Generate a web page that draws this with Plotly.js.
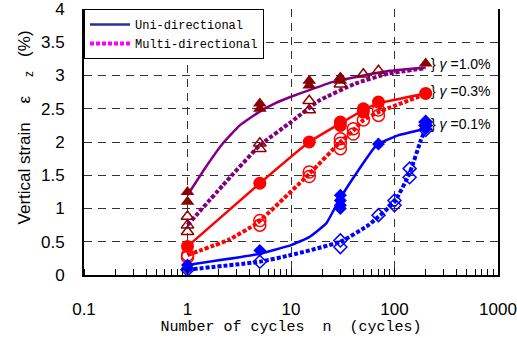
<!DOCTYPE html>
<html><head><meta charset="utf-8">
<script src="https://cdn.plot.ly/plotly-3.0.1.min.js"></script>
<style>html,body{margin:0;padding:0;background:#fff}#c{width:517px;height:338px}</style>
</head><body><div id="c"></div>
<script>
// ---- data ----
// gamma = 1.0 %
const g10UniMarkN = [1, 1, 5, 5, 15, 15, 30, 30, 200];
const g10UniMarkY = [1.25, 1.1, 2.58, 2.5, 2.92, 2.85, 2.97, 2.92, 3.18];
const g10MultiMarkN = [1, 1, 1, 5, 5, 15, 15, 30, 50, 70];
const g10MultiMarkY = [0.88, 0.75, 0.65, 1.98, 1.9, 2.62, 2.48, 2.87, 3.02, 3.07];
const g10UniLineN = [1, 1.5, 2.2, 3.2, 4.9, 7, 10, 15, 25, 50, 90, 200];
const g10UniLineY = [1.2, 1.62, 1.98, 2.25, 2.45, 2.58, 2.68, 2.78, 2.9, 3.0, 3.07, 3.12];
const g10MultiLineN = [1, 2.2, 5, 10, 18.6, 42, 88, 200];
const g10MultiLineY = [0.75, 1.35, 1.95, 2.3, 2.62, 2.88, 3.03, 3.11];
// gamma = 0.3 %
const g03UniMarkN = [1, 5, 15, 30, 30, 50, 50, 70, 200];
const g03UniMarkY = [0.43, 1.38, 2.0, 2.3, 2.25, 2.5, 2.45, 2.6, 2.73];
const g03MultiMarkN = [1, 1, 5, 5, 15, 15, 30, 30, 30, 40, 40, 50, 70, 70];
const g03MultiMarkY = [0.3, 0.27, 0.82, 0.75, 1.55, 1.48, 2.05, 1.98, 1.9, 2.2, 2.12, 2.33, 2.48, 2.4];
const g03UniLineN = [1, 5, 15, 30, 50, 70, 200];
const g03UniLineY = [0.43, 1.38, 2.0, 2.28, 2.48, 2.58, 2.73];
const g03MultiLineN = [1, 2.5, 4.7, 15, 30, 40, 50, 70, 200];
const g03MultiLineY = [0.3, 0.53, 0.78, 1.52, 2.0, 2.17, 2.33, 2.45, 2.72];
// gamma = 0.1 %
const g01UniMarkN = [1, 1, 5, 30, 30, 30, 30, 70, 200, 200, 200];
const g01UniMarkY = [0.15, 0.1, 0.37, 1.2, 1.12, 1.05, 1.0, 1.97, 2.3, 2.25, 2.2];
const g01MultiMarkN = [1, 5, 30, 30, 70, 100, 100, 140, 140, 200, 200, 200];
const g01MultiMarkY = [0.08, 0.2, 0.52, 0.42, 0.9, 1.12, 1.05, 1.6, 1.47, 2.3, 2.25, 2.18];
const g01UniLineN = [1, 5, 10, 15, 22, 29, 45, 67, 108, 200];
const g01UniLineY = [0.15, 0.32, 0.45, 0.57, 0.78, 1.12, 1.58, 1.95, 2.1, 2.2];
const g01MultiLineN = [1, 5, 10, 30, 56, 100, 140, 180, 200];
const g01MultiLineY = [0.08, 0.2, 0.3, 0.5, 0.75, 1.1, 1.53, 2.03, 2.2];

const xTicks = [0.1, 1, 10, 100, 1000];
const xTickText = ['0.1', '1', '10', '100', '1000'];
const yTicks = [0, 0.5, 1, 1.5, 2, 2.5, 3, 3.5, 4];
const yTickText = ['0', '0.5', '1', '1.5', '2', '2.5', '3', '3.5', '4'];
const labels = ['} <i>γ</i> =1.0%', '} <i>γ</i> =0.3%', '} <i>γ</i> =0.1%'];
const labelY = [3.18, 2.76, 2.27];
const legendNames = ['Uni-directional', 'Multi-directional'];
const xTitle = 'Number of cycles  n  (cycles)';
const yTitle = 'Vertical strain    ε    <sub>z</sub>   (%)';

const PURPLE = '#800080', MAROON = '#8B0000', RED = '#FF0000', BLUE = '#0000FF';
function line(n, y, c, dotted) {
  return {x: n, y: y, mode: 'lines', showlegend: false, hoverinfo: 'skip',
    line: {color: c, width: dotted ? 4 : 2.5, dash: dotted ? '4px,2px' : 'solid', shape: 'spline', smoothing: 0.4}};
}
function mark(n, y, c, sym, size, open) {
  return {x: n, y: y, mode: 'markers', showlegend: false,
    marker: {symbol: open ? sym + '-open' : sym, color: c, size: size, line: {color: c, width: open ? 1.5 : 0}}};
}
const traces = [
  line(g10UniLineN, g10UniLineY, PURPLE, false),
  line(g10MultiLineN, g10MultiLineY, PURPLE, true),
  line(g03UniLineN, g03UniLineY, RED, false),
  line(g03MultiLineN, g03MultiLineY, RED, true),
  line(g01UniLineN, g01UniLineY, BLUE, false),
  line(g01MultiLineN, g01MultiLineY, BLUE, true),
  mark(g10UniMarkN, g10UniMarkY, MAROON, 'triangle-up', 12, false),
  mark(g10MultiMarkN, g10MultiMarkY, MAROON, 'triangle-up', 11, true),
  mark(g03UniMarkN, g03UniMarkY, RED, 'circle', 13, false),
  mark(g03MultiMarkN, g03MultiMarkY, RED, 'circle', 12, true),
  mark(g01UniMarkN, g01UniMarkY, BLUE, 'diamond', 10, false),
  mark(g01MultiMarkN, g01MultiMarkY, BLUE, 'diamond', 10, true),
  {x: [null], y: [null], mode: 'lines', name: legendNames[0], line: {color: '#2E3192', width: 2.5}},
  {x: [null], y: [null], mode: 'lines', name: legendNames[1], line: {color: '#FF00FF', width: 4, dash: '4px,2px'}}
];
const annotations = labels.map((t, i) => ({
  x: Math.log10(185), y: labelY[i], xref: 'x', yref: 'y', text: t, showarrow: false, xshift: 7,
  xanchor: 'left', yanchor: 'middle', font: {family: 'Liberation Sans, Arial', size: 14, color: '#000'}
}));
annotations.push({
  xref: 'paper', yref: 'paper', x: -0.14, y: 0.555, xanchor: 'center', yanchor: 'middle',
  text: yTitle, textangle: -90, showarrow: false,
  font: {family: 'Liberation Sans, Arial', size: 17, color: '#000'}
});
const layout = {
  width: 517, height: 338,
  margin: {l: 84, r: 19, t: 9, b: 63},
  paper_bgcolor: '#fff', plot_bgcolor: '#fff',
  font: {family: 'Liberation Sans, Arial', color: '#000'},
  xaxis: {type: 'log', range: [-1, 3], tickvals: xTicks, ticktext: xTickText,
    showgrid: true, gridcolor: '#333', griddash: '8px,6px', gridwidth: 1,
    showline: true, linecolor: '#000', linewidth: 2, ticks: '', ticklabelstandoff: 18,
    ticklabeloverflow: 'allow', tickfont: {size: 17}, zeroline: false,
    minor: {ticks: 'inside', ticklen: 6, tickcolor: '#000', tickwidth: 1, dtick: 'D1', showgrid: false},
    title: {text: xTitle, font: {family: 'Liberation Mono, monospace', size: 15}, standoff: 0}},
  yaxis: {range: [0, 4], tickvals: yTicks, ticktext: yTickText,
    showgrid: true, gridcolor: '#333', griddash: '8px,6px', gridwidth: 1,
    showline: true, mirror: true, linecolor: '#000', linewidth: 2, ticks: '', ticklabelstandoff: 14,
    ticklabeloverflow: 'allow', tickfont: {size: 17}, zeroline: false},
  legend: {x: 0, y: 1, xanchor: 'left', yanchor: 'top', bgcolor: '#fff', bordercolor: '#000', borderwidth: 1,
    font: {family: 'Liberation Mono, monospace', size: 12}, tracegroupgap: 0, itemwidth: 40},
  annotations: annotations,
  showlegend: true
};
Plotly.newPlot('c', traces, layout, {displayModeBar: false, staticPlot: true});
</script></body></html>
